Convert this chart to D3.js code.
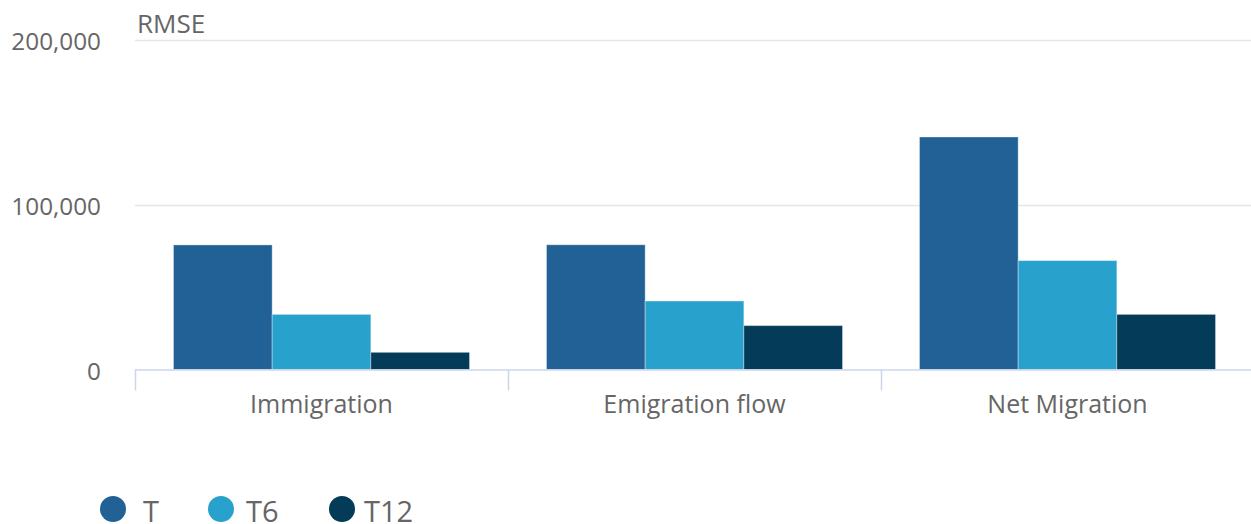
<!DOCTYPE html>
<html>
<head>
<meta charset="utf-8">
<script src="https://cdn.jsdelivr.net/npm/d3@7"></script>
<style>
  html, body { margin: 0; padding: 0; background: #fff; }
  svg { display: block; font-family: "Open Sans", sans-serif; }
</style>
</head>
<body>
<svg id="chart" width="1251" height="524"></svg>
<script>
const categories = ["Immigration", "Emigration flow", "Net Migration"];
const seriesNames = ["T", "T6", "T12"];
const seriesT = [75500, 75600, 140900];
const seriesT6 = [33400, 41500, 66000];
const seriesT12 = [10400, 26600, 33400];
const yTicks = [0, 100000, 200000];
const colors = ["#226196", "#28a1cc", "#033b58"];

const seriesValues = [seriesT, seriesT6, seriesT12];
const svg = d3.select("#chart");
const plotLeft = 135, plotRight = 1254, plotTop = 39.5, plotBottom = 369.5;

const x = d3.scaleBand().domain(categories).range([plotLeft, plotRight]).paddingInner(0).paddingOuter(0);
const xi = d3.scaleBand().domain(seriesNames).range([0, x.bandwidth()]).paddingInner(0).paddingOuter(0.39);
const y = d3.scaleLinear().domain([0, 200000]).range([plotBottom, plotTop]);

// gridlines
svg.append("g").selectAll("line").data(yTicks.filter(d => d > 0)).join("line")
  .attr("x1", plotLeft).attr("x2", plotRight)
  .attr("y1", d => Math.round(y(d)) + 0.5).attr("y2", d => Math.round(y(d)) + 0.5)
  .attr("stroke", "#e6e6e6").attr("stroke-width", 1.5);

// y labels
svg.append("g").selectAll("text").data(yTicks).join("text")
  .attr("x", 101).attr("y", d => y(d) + 10)
  .attr("text-anchor", "end").attr("fill", "#666").attr("font-size", 24.3)
  .text(d => d3.format(",")(d));

// title
svg.append("text").attr("x", 137).attr("y", 33).attr("fill", "#666")
  .attr("font-size", 26).text("RMSE");

// bars
const data = [];
categories.forEach((c, i) => seriesNames.forEach((s, j) => data.push({c, s, v: seriesValues[j][i], j})));
svg.append("g").selectAll("rect").data(data).join("rect")
  .attr("x", d => x(d.c) + xi(d.s))
  .attr("width", xi.bandwidth())
  .attr("y", d => y(d.v))
  .attr("height", d => y(0) - y(d.v))
  .attr("fill", d => colors[d.j])
  .attr("stroke", "rgba(255,255,255,0.35)").attr("stroke-width", 1);

// x axis
const gx = svg.append("g").attr("transform", `translate(0,${plotBottom})`);
gx.append("line").attr("x1", plotLeft).attr("x2", plotRight).attr("y1", 0.5).attr("y2", 0.5)
  .attr("stroke", "#ccd6eb").attr("stroke-width", 1.5);
const bounds = categories.map(c => x(c)).concat([plotRight]);
gx.selectAll("line.tick").data(bounds).join("line").attr("class", "tick")
  .attr("x1", d => Math.round(d) + 0.5).attr("x2", d => Math.round(d) + 0.5)
  .attr("y1", 0).attr("y2", 21).attr("stroke", "#ccd6eb").attr("stroke-width", 1.5);
gx.selectAll("text.cat").data(categories).join("text").attr("class", "cat")
  .attr("x", d => x(d) + x.bandwidth() / 2).attr("y", 43)
  .attr("text-anchor", "middle").attr("fill", "#666").attr("font-size", 25)
  .text(d => d);

// legend
const legendX = [113, 221, 342];
const lg = svg.append("g").selectAll("g").data(seriesNames).join("g")
  .attr("transform", (d, i) => `translate(${legendX[i]},509)`);
lg.append("circle").attr("r", 13).attr("fill", (d, i) => colors[i]);
lg.append("text").attr("x", (d, i) => [30, 25, 22][i]).attr("y", 13)
  .attr("fill", "#666").attr("font-size", 29).text(d => d);
</script>
</body>
</html>
